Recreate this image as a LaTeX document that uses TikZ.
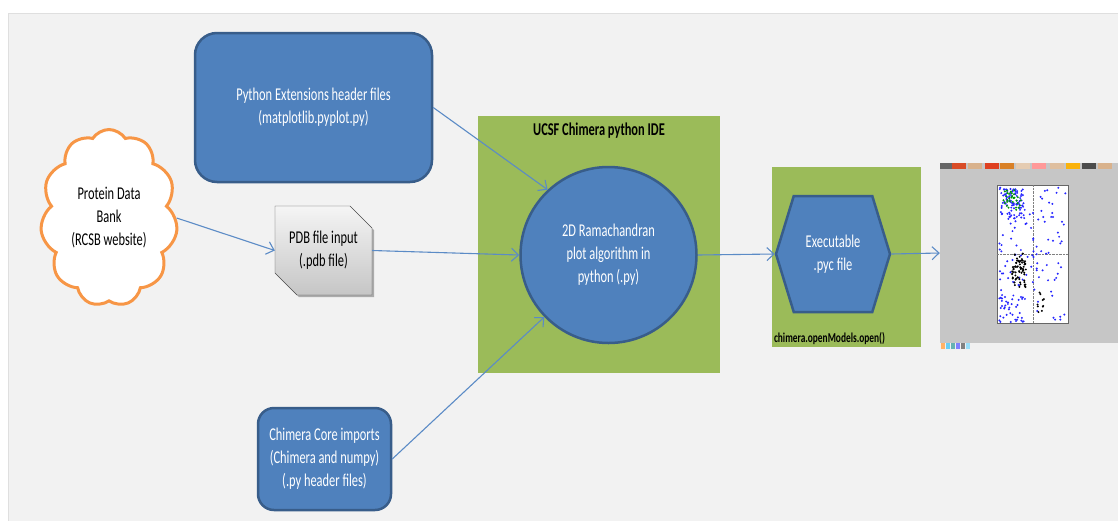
\documentclass[tikz,border=0pt]{standalone}
\usepackage{fontspec}
\setmainfont[FakeStretch=0.69]{Carlito}
\usetikzlibrary{shapes.symbols, shapes.misc, shadows, positioning, arrows.meta}
\definecolor{accblue}{HTML}{4F81BD}
\definecolor{accedge}{HTML}{385D8A}
\definecolor{accgreen}{HTML}{9BBB59}
\definecolor{accorange}{HTML}{F79646}
\definecolor{bggray}{HTML}{F2F2F2}
\definecolor{lnblue}{HTML}{5B8BC6}

\begin{document}
\begin{tikzpicture}
  [x=1pt,y=-1pt,
   font=\fontsize{18}{23}\selectfont,
   >={Straight Barb[length=7pt,width=13pt]},
   blk/.style={rectangle,rounded corners=22pt,draw=accedge,fill=accblue,line width=2.5pt,text=white,align=center,inner sep=0pt},
   alg/.style={circle,draw=accedge,fill=accblue,line width=2.5pt,text=white,align=center,minimum size=176pt,inner sep=0pt},
   hex/.style={signal,signal to=east and west,signal pointer angle=146,draw=accedge,fill=accblue,line width=2.5pt,text=white,align=center,minimum width=114pt,minimum height=116pt,inner sep=0pt},
   cld/.style={cloud,cloud puffs=11,cloud puff arc=115,cloud ignores aspect,draw=accorange,fill=white,line width=3pt,align=center,minimum width=137pt,minimum height=177pt,inner sep=0pt},
   doc/.style={chamfered rectangle,chamfered rectangle corners={north east,south west},chamfered rectangle xsep=11pt,chamfered rectangle ysep=11pt,draw=black!70,top color=gray!8,bottom color=gray!45,drop shadow={shadow xshift=2pt,shadow yshift=-2pt,fill=black!60},align=center,minimum width=97pt,minimum height=89pt,inner sep=0pt},
   grn/.style={rectangle,fill=accgreen,inner sep=0pt},
   lnk/.style={->,draw=lnblue,line width=1.1pt}]

  \useasboundingbox (0,0) rectangle (1118,520);
  \draw[fill=bggray,draw=gray!25,line width=1pt] (8,13) rectangle (1130,530);

  \node[grn,minimum width=242pt,minimum height=257pt] (ide) at (599,244.5) {};
  \node[font=\fontsize{18}{23}\bfseries, below=4pt of ide.north] (idettl) {UCSF Chimera python IDE};
  \node[grn,minimum width=149pt,minimum height=180pt] (run) at (846.5,257) {};
  \node[font=\fontsize{13.6}{15}\bfseries, inner sep=1pt, above right=1pt and 1pt of run.south west] (runttl) {chimera.openModels.open()};

  \node[blk,minimum width=237pt,minimum height=149pt] (pyext) at (313.5,107.5)
                 {Python Extensions header files\\(matplotlib.pyplot.py)};
  \node[cld] (pdbank) at (109,218) {Protein Data\\Bank\\(RCSB website)};
  \node[doc] (pdbin) at (323.5,250.5) {PDB file input\\(.pdb file)};
  \node[alg] (algo) at (608.5,255) {2D Ramachandran\\plot algorithm in\\python (.py)};
  \node[blk,rounded corners=16pt,minimum width=133pt,minimum height=102pt] (core) at (324.5,459)
                 {Chimera Core imports\\(Chimera and numpy)\\(.py header files)};
  \node[hex] (exe) at (833,254) {Executable\\.pyc file};

  % screenshot of the plot window
  \node[rectangle,fill=gray!45,minimum width=178pt,minimum height=180pt,inner sep=0pt] (shot) at (1029,253) {};
  \fill[white!88!gray] (940,343) rectangle (1118,350);
  \foreach \xa/\col in {940/black!60,952/red!40!brown,968/brown!60,985/red!50!brown,1000/orange!40!brown,1016/brown!40,1032/red!40,1050/brown!50,1066/yellow!40!orange,1082/black!70,1098/brown!60}
    \fill[\col] (\xa,163) rectangle ++(14,6);
  \foreach \xa/\col in {941/orange!60,946/cyan!60,951/teal!60,956/blue!50,961/gray,966/cyan!40}
    \fill[\col] (\xa,343) rectangle ++(4,6);
  \fill[white] (997,185) rectangle (1068,323);
  \draw[black!60,line width=0.4pt] (997,185) rectangle (1068,323);
  \draw[gray,densely dotted,line width=0.4pt] (1033,185) -- (1033,323) (997,254) -- (1068,254);
  \pgfmathsetseed{11}
  \foreach \i in {1,...,120}
    \fill[blue!85] (999+67*rnd,187+134*rnd) circle (1.1);
  \foreach \i in {1,...,80}
    \fill[blue!85] (1000+25*rnd,189+28*rnd) circle (1.1);
  \foreach \i in {1,...,30}
    \fill[green!60!black] (1003+18*rnd,190+20*rnd) circle (1.1);
  \foreach \i in {1,...,70}
    \fill[black] (1012+14*rnd,253+35*rnd) circle (1.1);
  \foreach \i in {1,...,35}
    \fill[blue!85] (1000+25*rnd,295+27*rnd) circle (1.1);
  \foreach \i in {1,...,10}
    \fill[black] (1036+8*rnd,290+25*rnd) circle (1.1);

  \draw[lnk] (pyext.east) -- (algo.133);
  \draw[lnk] (pdbank.east) -- (pdbin.west);
  \draw[lnk] (pdbin.east) -- (algo.west);
  \draw[lnk] (core.east) -- (algo.224);
  \draw[lnk] (algo.east) -- (exe.west);
  \draw[lnk] (exe.east) -- (shot.west);

\end{tikzpicture}
\end{document}
